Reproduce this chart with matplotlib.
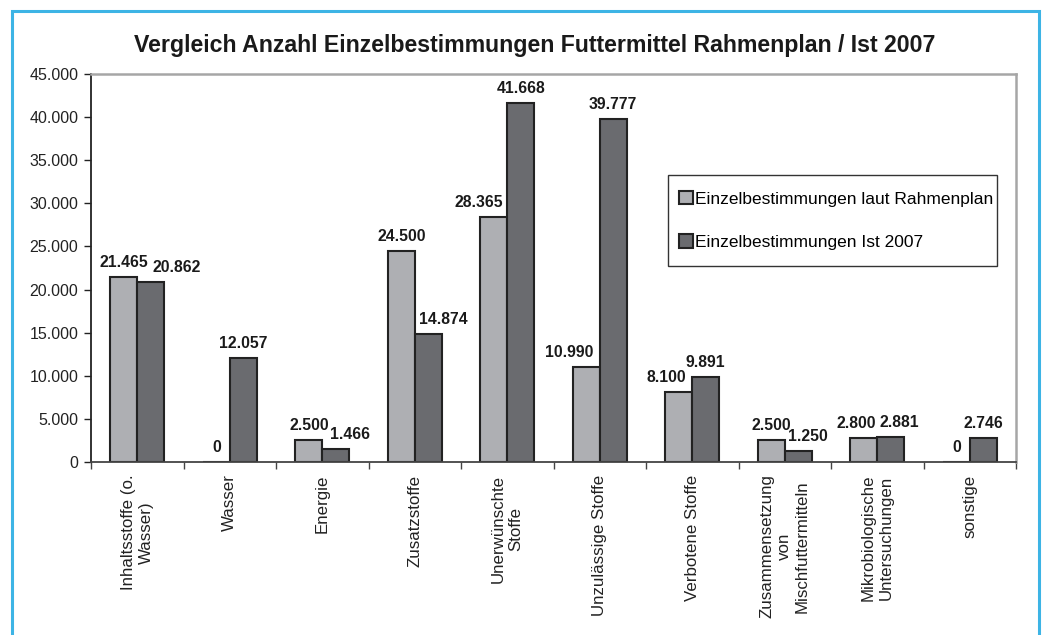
import matplotlib
matplotlib.use("Agg")
import matplotlib.pyplot as plt
from matplotlib.patches import Rectangle
import numpy as np

# data
categories = ["Inhaltsstoffe (o.\nWasser)", "Wasser", "Energie", "Zusatzstoffe",
              "Unerwünschte\nStoffe", "Unzulässige Stoffe", "Verbotene Stoffe",
              "Zusammensetzung\nvon\nMischfuttermitteln",
              "Mikrobiologische\nUntersuchungen", "sonstige"]
rahmenplan = [21465, 0, 2500, 24500, 28365, 10990, 8100, 2500, 2800, 0]
ist_2007 = [20862, 12057, 1466, 14874, 41668, 39777, 9891, 1250, 2881, 2746]
series_names = ["Einzelbestimmungen laut Rahmenplan", "Einzelbestimmungen Ist 2007"]
yticks = [0, 5000, 10000, 15000, 20000, 25000, 30000, 35000, 40000, 45000]

# label shifts (pixels) so the numbers don't run into each other
shift_light = [0, 0, 0, 0, -15, -17, -13, 0, -8, 0]
shift_dark = [26, 0, 14, 15, 0, 0, 0, 10, 9, 0]

plt.rcParams['font.family'] = ['Liberation Sans', 'DejaVu Sans']

fig = plt.figure(figsize=(10.42, 6.35), dpi=100)
ax = fig.add_axes([91/1042, 1 - 462/635, 925/1042, 388/635])

light = '#aeafb3'
dark = '#6a6b6f'
w = 0.29
x = np.arange(len(categories)) + 0.5

b1 = ax.bar(x - w/2, rahmenplan, w, color=light, edgecolor='#222222', linewidth=1.5,
            label=series_names[0])
b2 = ax.bar(x + w/2, ist_2007, w, color=dark, edgecolor='#222222', linewidth=1.5,
            label=series_names[1])

def fmt(v):
    return f"{v:,}".replace(",", ".")

for bars, vals, shifts in [(b1, rahmenplan, shift_light), (b2, ist_2007, shift_dark)]:
    for b, v, s in zip(bars, vals, shifts):
        ax.annotate(fmt(v), (b.get_x() + b.get_width()/2, v),
                    xytext=(s*0.72, 5), textcoords='offset points',
                    ha='center', va='bottom', fontsize=11.3, fontweight='bold',
                    color='#1a1a1a')

ax.set_xlim(0, len(categories))
ax.set_ylim(0, 45000)
ax.set_yticks(yticks)
ax.set_yticklabels([fmt(t) for t in yticks], fontsize=11.5, color='#222222')

ax.set_xticks(np.arange(len(categories) + 1))
ax.set_xticklabels([])
ax.set_xticks(x, minor=True)
ax.set_xticklabels(categories, minor=True, rotation=90, fontsize=12.2,
                   multialignment='center', color='#222222')
ax.tick_params(axis='x', which='minor', length=0, pad=9)
ax.tick_params(axis='x', which='major', length=5, width=1, color='#444444')
ax.tick_params(axis='y', length=5, width=1, color='#222222', pad=4)

ax.spines['left'].set_color('#222222')
ax.spines['left'].set_linewidth(1.3)
ax.spines['bottom'].set_color('#444444')
ax.spines['bottom'].set_linewidth(1.3)
for sp in ['top', 'right']:
    ax.spines[sp].set_color('#a6a6a6')
    ax.spines[sp].set_linewidth(1.8)

fig.suptitle("Vergleich Anzahl Einzelbestimmungen Futtermittel Rahmenplan / Ist 2007",
             x=0.513, y=1 - 34/635, va='top', fontsize=16.7, fontweight='bold',
             color='#1a1a1a')

# legend entries without frame, box drawn separately
leg = ax.legend(loc='upper left', bbox_to_anchor=(679/1042, 1 - 191/635),
                bbox_transform=fig.transFigure, fontsize=12.5, frameon=False,
                borderpad=0, labelspacing=1.6, handlelength=0.8, handleheight=0.8,
                handletextpad=0.12, borderaxespad=0)
leg.set_zorder(10)
ax.add_patch(Rectangle((668/1042, 1 - 266/635), 329/1042, 91/635,
                       transform=fig.transFigure, clip_on=False, facecolor='white',
                       edgecolor='#333333', linewidth=1.0, zorder=6))

# blue frame round the whole chart
fig.patches.append(Rectangle((12/1042, -0.05), 1027/1042, 1.05 - 11/635,
                             transform=fig.transFigure, fill=False,
                             edgecolor='#3db4e5', linewidth=2.2))

fig.savefig("out.png", dpi=100)
